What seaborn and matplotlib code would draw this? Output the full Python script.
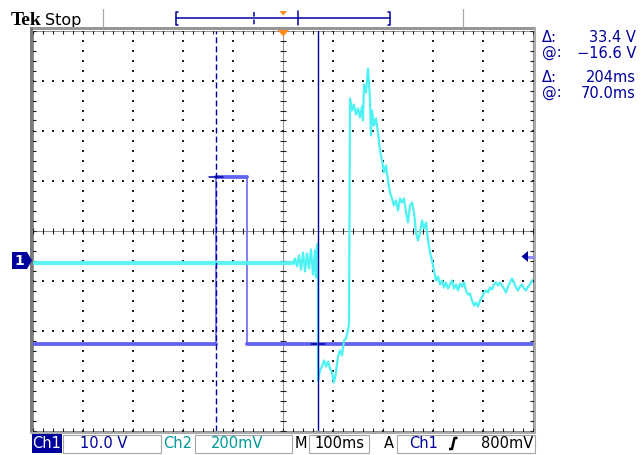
import numpy as np
import pandas as pd
import matplotlib
matplotlib.use("Agg")
import matplotlib.pyplot as plt
import seaborn as sns
from matplotlib.patches import Polygon, Rectangle

# ---------------- data (time in ms, 100 ms/div; vertical in screen divisions) -------------
ch1_time_ms = [-500, -134, -134, -72, -72, 500]
ch1_volts = [-16.6, -16.6, 16.8, 16.8, -16.6, -16.6]
ch1_volts_per_div = 10.0
ch1_ground_div = -0.6

ch2_base_time_ms = [-500, 20]
ch2_base_div = [-0.64, -0.64]

ch2_time_ms = [20, 24, 28, 32, 36, 40, 44, 48, 52, 56, 60, 64, 66, 68, 70,
               70, 74, 78, 82, 86, 90, 94, 98, 102, 106, 110, 114, 118, 122, 126, 130, 132,
               134, 138, 142, 146, 150, 154, 158, 160, 162, 166, 170, 172, 174, 176, 178,
               182, 186, 190, 194, 198, 202, 206, 210, 214, 218, 222, 226, 230, 234, 238,
               242, 246, 250, 254, 258, 262, 266, 270, 274, 278, 282, 286, 290, 294, 298,
               302, 306, 310, 314, 318, 322, 326, 330, 334, 338, 342, 346, 350, 354, 358,
               362, 366, 370, 374, 378, 382, 386, 390, 394, 398, 402, 406, 410, 414, 418,
               422, 426, 430, 434, 438, 442, 446, 450, 454, 458, 462, 466, 470, 474, 478,
               482, 486, 490, 494, 500]
ch2_div = [-0.64, -0.56, -0.72, -0.50, -0.78, -0.44, -0.82, -0.46, -0.76, -0.38, -0.88, -0.40, -0.94, -0.30, -0.26,
           -3.00, -2.80, -2.72, -2.60, -2.72, -2.62, -2.76, -2.84, -3.04, -2.84, -2.52, -2.40, -2.50, -2.20, -2.16, -2.00, -1.86,
           2.64, 2.40, 2.52, 2.32, 2.44, 2.26, 2.48, 2.20, 2.92, 2.76, 3.24, 2.96, 2.60, 1.90, 2.40,
           2.10, 2.24, 1.96, 1.60, 1.40, 1.16, 1.30, 1.00, 0.76, 0.64, 0.50, 0.60, 0.40, 0.64, 0.56,
           0.64, 0.36, 0.16, 0.50, 0.56, 0.36, -0.04, -0.20, -0.04, 0.20, 0.04, 0.16, -0.20, -0.44, -0.60,
           -0.80, -1.00, -0.92, -1.08, -1.00, -1.14, -1.04, -1.16, -1.08, -1.00, -1.16, -1.08, -1.20, -1.06, -1.12,
           -1.04, -1.20, -1.28, -1.26, -1.40, -1.50, -1.44, -1.52, -1.40, -1.34, -1.24, -1.20, -1.24, -1.14, -1.18,
           -1.08, -1.04, -1.10, -1.04, -1.10, -1.16, -1.24, -1.12, -1.04, -0.96, -1.04, -1.14, -1.20, -1.12, -1.08,
           -1.16, -1.20, -1.12, -1.08, -0.98]

cursor_ms = [-134, 70]
trigger_level_v = 0.8
readout_labels = ["\u0394:", "@:", "\u0394:", "@:"]
readout_values = ["33.4 V", "\u221216.6 V", "204ms", "70.0ms"]
ch1_scale_text = "10.0 V"
ch2_scale_text = "200mV"
time_scale_text = "100ms"
trigger_text = "800mV"

# ---------------- colours -------------
NAVY = "#00009c"
TEAL = "#009a9a"
CH1_COL = "#5c5cf2"
CH2_COL = "#4ef2f2"
GRID = "#1e1e1e"
ORANGE = "#ff8a1c"

W, H = 643, 455
sns.set_style("white")
plt.rcParams["font.family"] = ["DejaVu Sans"]

fig = plt.figure(figsize=(W / 100, H / 100), dpi=100)
fig.patch.set_facecolor("white")

ax = fig.add_axes([33 / W, (H - 430.5) / H, 500 / W, 400 / H])
ax.set_xlim(-500, 500)
ax.set_ylim(-4, 4)
ax.axis("off")

# ---------------- graticule -------------
dot_x = np.arange(-500, 501, 20)
dot_y = np.round(np.arange(-4, 4.001, 0.2), 2)
for xm in [-400, -300, -200, -100, 100, 200, 300, 400]:
    ax.scatter(np.full(dot_y.shape, xm), dot_y, marker="s", s=0.7, c=GRID, linewidths=0, zorder=1)
for ym in [-3, -2, -1, 1, 2, 3]:
    ax.scatter(dot_x, np.full(dot_x.shape, ym, dtype=float), marker="s", s=0.7, c=GRID, linewidths=0, zorder=1)

# center cross (dense dotted with ticks)
ax.plot([-500, 500], [0, 0], ls=(0, (1, 1)), lw=0.72, color=GRID, zorder=1)
ax.plot([0, 0], [-4, 4], ls=(0, (1, 1)), lw=0.72, color=GRID, zorder=1)
ax.scatter(dot_x, np.zeros(dot_x.shape), marker="|", s=18, linewidths=0.8, c=GRID, zorder=1)
ax.scatter(np.zeros(dot_y.shape), dot_y, marker="_", s=18, linewidths=0.8, c=GRID, zorder=1)

# border (dense dotted with inward ticks)
for yb in [-4, 4]:
    ax.plot([-500, 500], [yb, yb], ls=(0, (1, 1)), lw=0.72, color=GRID, zorder=1, clip_on=False)
    ax.scatter(dot_x, np.full(dot_x.shape, float(yb)), marker="|", s=16, linewidths=0.8, c=GRID, zorder=1)
for xb in [-500, 500]:
    ax.plot([xb, xb], [-4, 4], ls=(0, (1, 1)), lw=0.72, color=GRID, zorder=1, clip_on=False)
    ax.scatter(np.full(dot_y.shape, float(xb)), dot_y, marker="_", s=16, linewidths=0.8, c=GRID, zorder=1)

# ---------------- traces -------------
ch1_div = np.array(ch1_volts) / ch1_volts_per_div + ch1_ground_div
df1 = pd.DataFrame({"t": ch1_time_ms, "y": ch1_div})
# flat levels drawn as a band (trace noise), edges thin
seg_rows = []
for i in range(len(ch1_time_ms) - 1):
    if ch1_div[i] == ch1_div[i + 1] and ch1_time_ms[i] != ch1_time_ms[i + 1]:
        seg_rows.append({"t": ch1_time_ms[i], "y": ch1_div[i], "seg": i})
        seg_rows.append({"t": ch1_time_ms[i + 1], "y": ch1_div[i + 1], "seg": i})
df1_levels = pd.DataFrame(seg_rows)
sns.lineplot(data=df1_levels, x="t", y="y", units="seg", estimator=None, sort=False, ax=ax,
             color=CH1_COL, lw=2.9, alpha=0.85, zorder=3, legend=False)
sns.lineplot(data=df1, x="t", y="y", estimator=None, sort=False, ax=ax,
             color=CH1_COL, lw=1.1, zorder=3, legend=False)

df2b = pd.DataFrame({"t": ch2_base_time_ms, "y": ch2_base_div})
sns.lineplot(data=df2b, x="t", y="y", estimator=None, sort=False, ax=ax,
             color=CH2_COL, lw=3.0, alpha=0.9, zorder=4, legend=False)
df2 = pd.DataFrame({"t": ch2_time_ms, "y": ch2_div})
sns.lineplot(data=df2, x="t", y="y", estimator=None, sort=False, ax=ax,
             color=CH2_COL, lw=1.6, zorder=4, legend=False)
ax.set_xlabel("")
ax.set_ylabel("")

# ---------------- cursors -------------
ax.axvline(cursor_ms[0], color=NAVY, lw=1.0, ls=(0, (4.3, 2.2)), zorder=5)
ax.axvline(cursor_ms[1], color=NAVY, lw=1.0, ls="-", zorder=5)
c1_y = np.interp(cursor_ms[0] + 0.01, ch1_time_ms, ch1_div)
c2_y = np.interp(cursor_ms[1], ch1_time_ms, ch1_div)
ax.plot([cursor_ms[0] - 14, cursor_ms[0] + 14], [c1_y, c1_y], color=NAVY, lw=1.1, zorder=5)
ax.plot([cursor_ms[1] - 14, cursor_ms[1] + 14], [c2_y, c2_y], color=NAVY, lw=1.1, zorder=5)

# ---------------- overlay (pixel coordinates) -------------
ov = fig.add_axes([0, 0, 1, 1])
ov.set_xlim(0, W)
ov.set_ylim(H, 0)
ov.axis("off")
ov.patch.set_alpha(0)

def px_y(div):
    return 230.5 - div * 50

# gray frame
ov.add_patch(Rectangle((30, 27), 506, 3, color="#969696", lw=0, zorder=6))
ov.add_patch(Rectangle((30, 27), 3, 407, color="#7a7a7a", lw=0, zorder=6))
ov.add_patch(Rectangle((533.5, 27), 2.5, 407, color="#ababab", lw=0, zorder=6))
ov.add_patch(Rectangle((30, 431.5), 506, 2.5, color="#ababab", lw=0, zorder=6))

# top record bar
ov.plot([103, 103], [9, 27], color="#a8a8a8", lw=0.9)
ov.plot([463, 463], [9, 27], color="#a8a8a8", lw=0.9)
ov.plot([175.5, 389.5], [18, 18], color=NAVY, lw=1.1)
ov.plot([177.5, 175.5, 175.5, 177.5], [12, 12, 25, 25], color=NAVY, lw=1.1)
ov.plot([387.5, 389.5, 389.5, 387.5], [12, 12, 25, 25], color=NAVY, lw=1.1)
rec_scale = 0.215
bx = [282.5 + c * rec_scale for c in cursor_ms]
ov.plot([bx[0], bx[0]], [12, 25], color=NAVY, lw=1.1, ls=(0, (3, 2)))
ov.plot([bx[1], bx[1]], [11, 25], color=NAVY, lw=1.1)
ov.add_patch(Polygon([(279.5, 11), (287, 11), (283.2, 15.5)], closed=True, color=ORANGE, lw=0))
ov.add_patch(Polygon([(277.5, 30), (289, 30), (283.2, 36.5)], closed=True, color=ORANGE, lw=0, zorder=7))

# channel 1 ground marker
gy = px_y(ch1_ground_div)
ov.add_patch(Polygon([(12, gy - 8.5), (27, gy - 8.5), (32, gy), (27, gy + 8.5), (12, gy + 8.5)],
                     closed=True, color=NAVY, lw=0, zorder=7))
ov.text(19.5, gy + 0.5, "1", color="white", fontsize=10, fontweight="bold", ha="center", va="center", zorder=8)

# trigger level marker
ty = px_y(ch1_ground_div + trigger_level_v / ch1_volts_per_div)
ov.plot([527, 533], [ty, ty], color="#8c8cff", lw=2.2, zorder=7)
ov.add_patch(Polygon([(521.5, ty), (528, ty - 5.5), (528, ty + 5.5)], closed=True, color=NAVY, lw=0, zorder=7))

# header
ov.text(11, 25, "Tek", fontsize=14, fontweight="bold", family=["Liberation Serif"], color="black",
        ha="left", va="baseline")
ov.text(45, 25, "Stop", fontsize=11.5, color="black", ha="left", va="baseline")

# readouts
for i, (lab, val) in enumerate(zip(readout_labels, readout_values)):
    yy = [38, 53, 78, 93][i]
    ov.text(542, yy, lab, fontsize=10.5, color=NAVY, ha="left", va="center")
    ov.text(636, yy, val, fontsize=10.5, color=NAVY, ha="right", va="center")

# bottom status bar
by = 443.5
ov.add_patch(Rectangle((32, 434), 30, 19, color=NAVY, lw=0))
ov.text(47, by, "Ch1", fontsize=10.5, color="white", ha="center", va="center")
for (x0, x1) in [(62, 161), (194, 292), (308, 369), (396, 535)]:
    ov.add_patch(Rectangle((x0 + 0.5, 434.5), x1 - x0 - 1, 18, fill=False, edgecolor="#a6a6a6", lw=0.8))
ov.text(103.5, by, ch1_scale_text, fontsize=10.5, color=NAVY, ha="center", va="center")
ov.text(177.5, by, "Ch2", fontsize=10.5, color=TEAL, ha="center", va="center")
ov.text(237.5, by, ch2_scale_text, fontsize=10.5, color=TEAL, ha="center", va="center")
ov.text(300.5, by, "M", fontsize=10.5, color="black", ha="center", va="center")
ov.text(339.5, by, time_scale_text, fontsize=10.5, color="black", ha="center", va="center")
ov.text(388.5, by, "A", fontsize=10.5, color="black", ha="center", va="center")
ov.text(409, by, "Ch1", fontsize=10.5, color=NAVY, ha="left", va="center")
ov.plot([449, 452, 454.5, 457.5], [449, 449, 438, 438], color="black", lw=1.8, solid_capstyle="butt")
ov.text(533, by, trigger_text, fontsize=10.5, color="black", ha="right", va="center")

fig.savefig("out.png", dpi=100, facecolor="white")
